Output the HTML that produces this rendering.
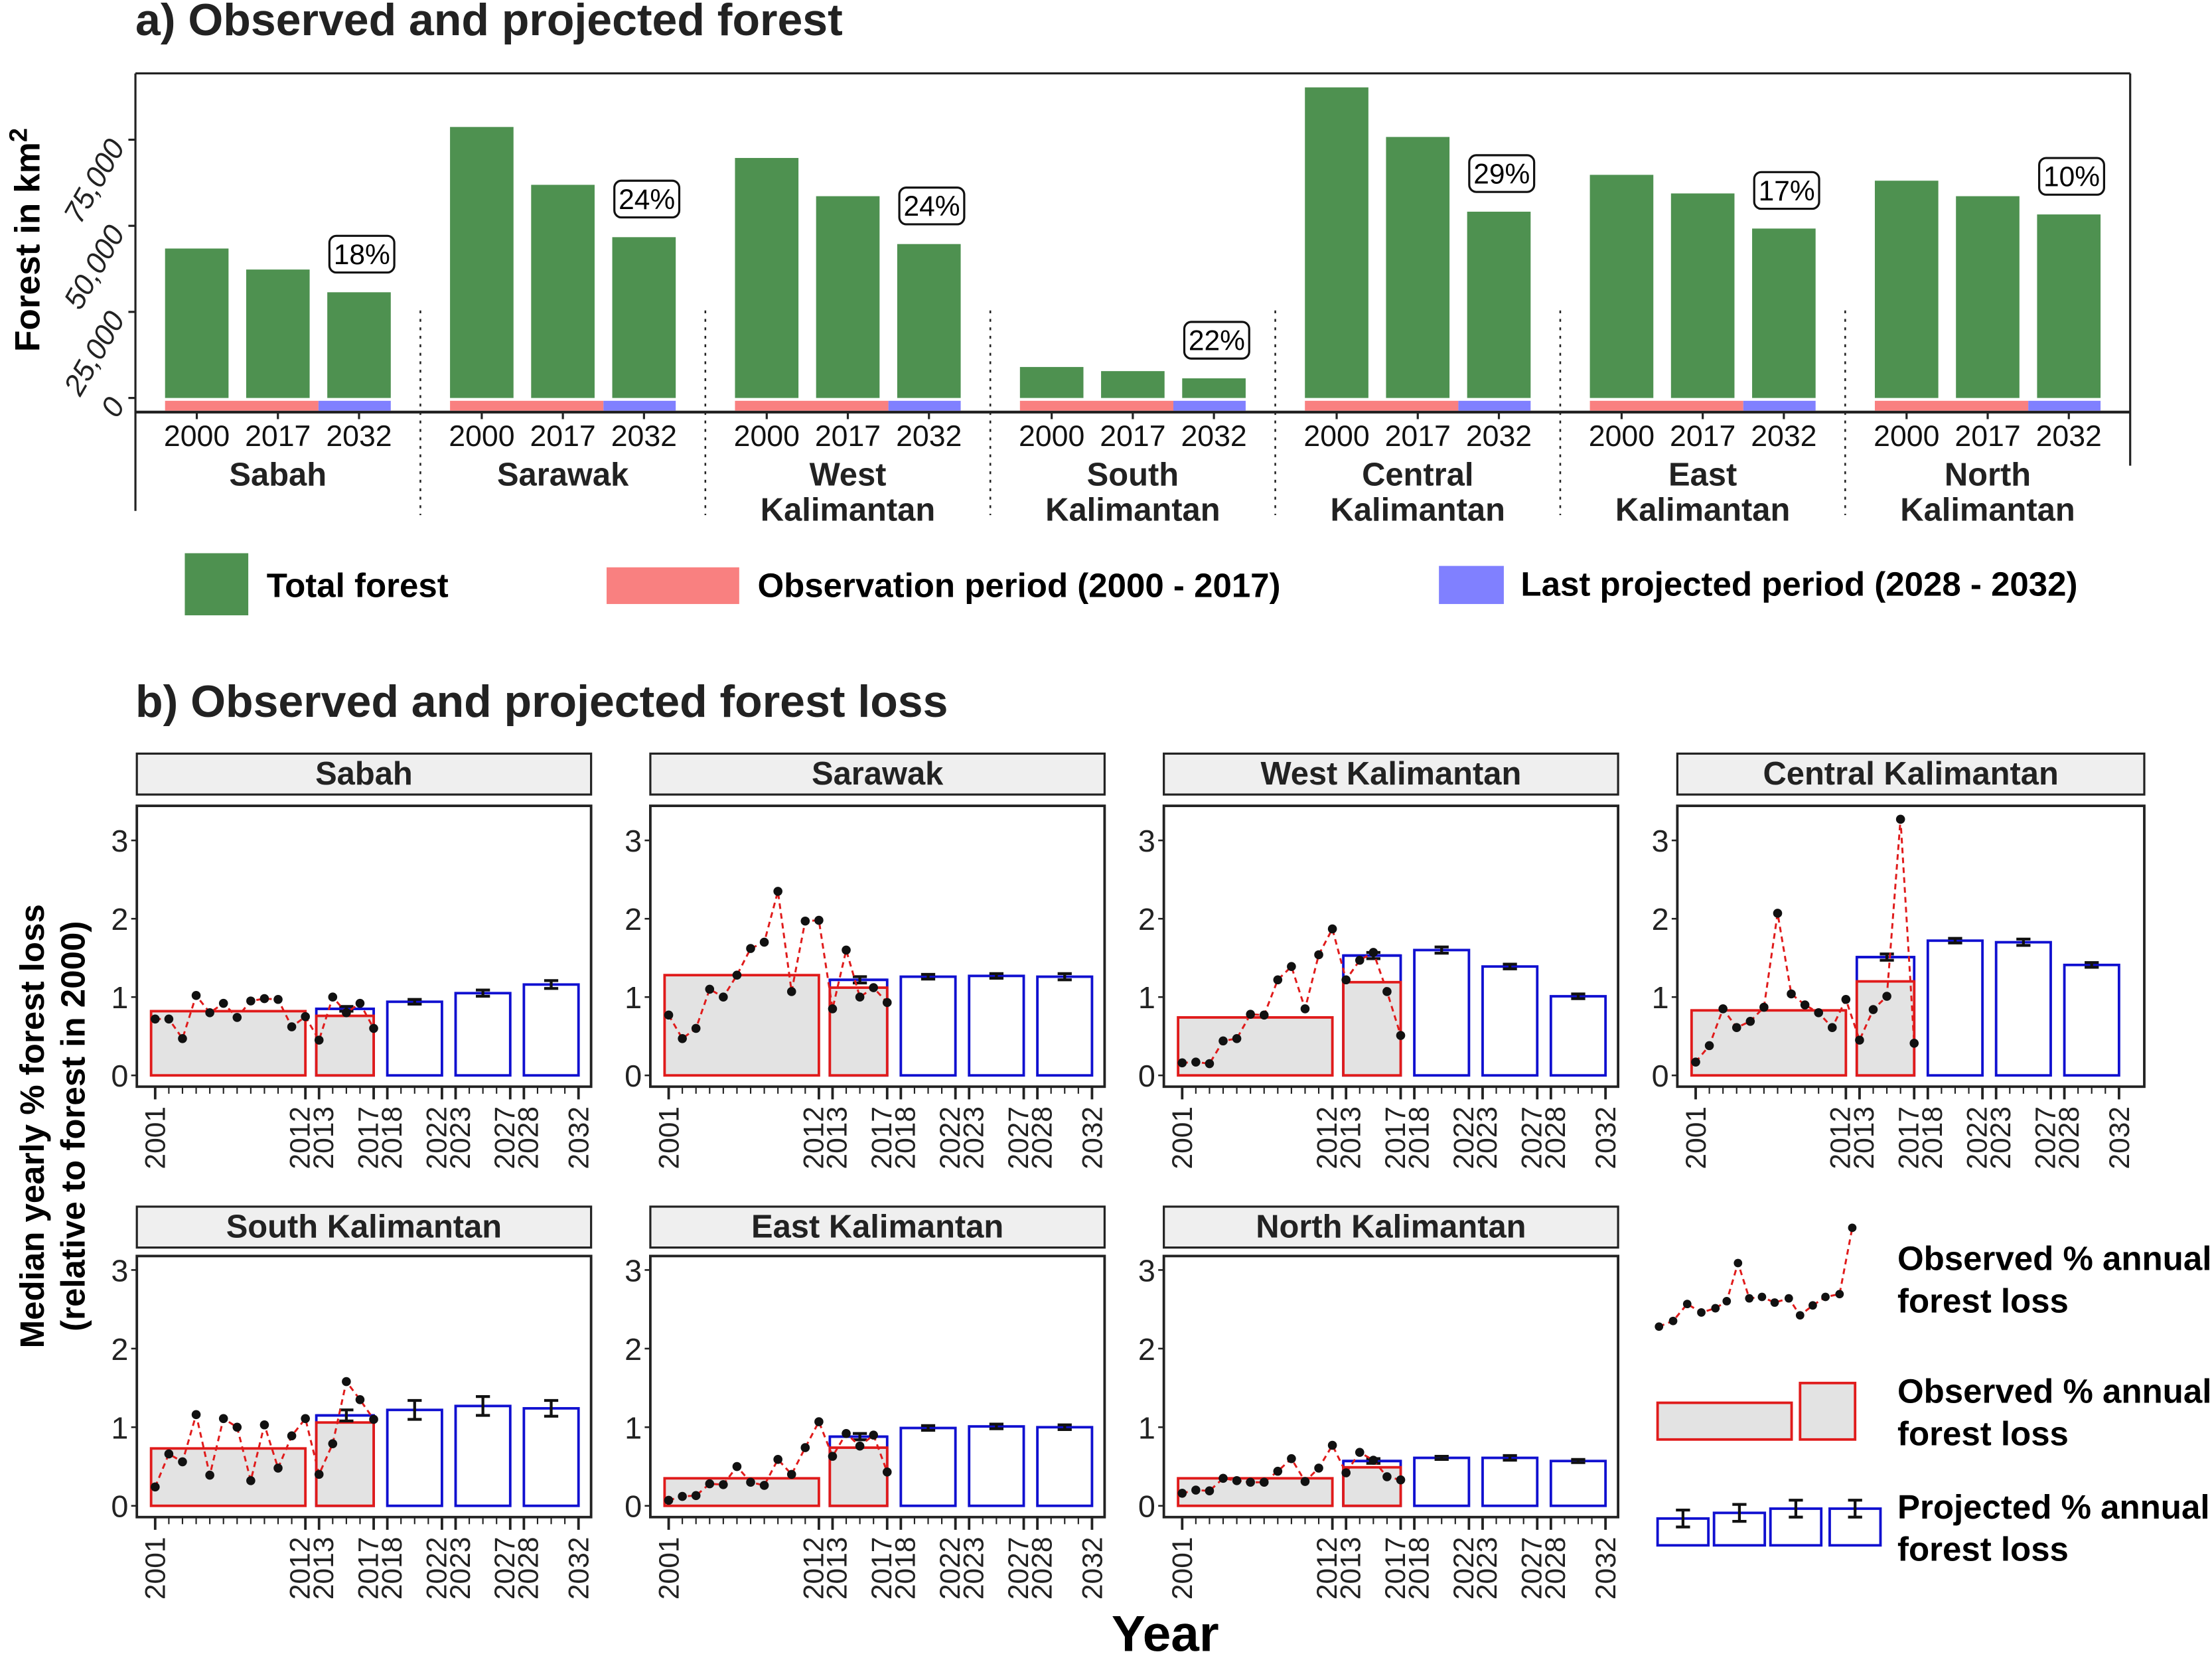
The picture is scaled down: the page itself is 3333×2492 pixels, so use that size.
<!DOCTYPE html>
<html><head><meta charset="utf-8">
<style>
html,body{margin:0;padding:0;background:#fff;}
svg{display:block;font-family:"Liberation Sans",Arial,sans-serif;}
.b{font-weight:bold;}
</style></head>
<body>
<svg id="fig" xmlns="http://www.w3.org/2000/svg" width="3333" height="2492" viewBox="0 0 1568 1172" preserveAspectRatio="none">
<text x="96" y="25" class="b" font-size="32" fill="#222">a) Observed and projected forest</text>
<text x="96" y="508" class="b" font-size="32" fill="#222">b) Observed and projected forest loss</text>
<text transform="translate(28,170) rotate(-90)" text-anchor="middle" class="b" font-size="25">Forest in km<tspan font-size="18" dy="-9">2</tspan></text>
<text transform="translate(31,798) rotate(-90)" text-anchor="middle" class="b" font-size="24">Median yearly % forest loss</text>
<text transform="translate(60,798) rotate(-90)" text-anchor="middle" class="b" font-size="24">(relative to forest in 2000)</text>
<text x="826" y="1170" text-anchor="middle" class="b" font-size="36">Year</text>
</svg>
<script>
// ---------- Panel a data ----------
const regionsA = ["Sabah","Sarawak","West Kalimantan","South Kalimantan","Central Kalimantan","East Kalimantan","North Kalimantan"];
const forest2000 = [43400,78700,69700,9000,90200,64800,63100];
const forest2017 = [37300,61900,58600,7800,75800,59400,58600];
const forest2032 = [30700,46700,44700,5700,54100,49200,53300];
const lossPct = ["18%","24%","24%","22%","29%","17%","10%"];
const yTicksA = [0,25000,50000,75000];
const yTickLabelsA = ["0","25,000","50,000","75,000"];
const barYearsA = ["2000","2017","2032"];

// ---------- Panel b data ----------
const panelNames = ["Sabah","Sarawak","West Kalimantan","Central Kalimantan","South Kalimantan","East Kalimantan","North Kalimantan"];
const obsYears = [2001,2002,2003,2004,2005,2006,2007,2008,2009,2010,2011,2012,2013,2014,2015,2016,2017];
const obsLoss = [
 [0.72,0.72,0.47,1.02,0.80,0.92,0.74,0.95,0.98,0.97,0.62,0.75,0.45,1.00,0.80,0.92,0.60],
 [0.77,0.47,0.60,1.10,1.00,1.28,1.62,1.70,2.35,1.07,1.97,1.98,0.85,1.60,1.00,1.12,0.93],
 [0.16,0.17,0.15,0.44,0.47,0.78,0.77,1.22,1.39,0.85,1.54,1.87,1.22,1.47,1.57,1.07,0.51],
 [0.17,0.38,0.85,0.61,0.69,0.87,2.07,1.04,0.90,0.80,0.61,0.97,0.45,0.84,1.01,3.27,0.41],
 [0.24,0.66,0.56,1.16,0.39,1.11,1.00,0.32,1.03,0.48,0.89,1.11,0.40,0.79,1.58,1.35,1.10],
 [0.07,0.12,0.13,0.28,0.27,0.50,0.30,0.26,0.59,0.40,0.74,1.07,0.63,0.92,0.76,0.90,0.43],
 [0.16,0.20,0.19,0.35,0.32,0.30,0.30,0.44,0.60,0.31,0.48,0.77,0.42,0.68,0.58,0.37,0.33]
];
const obsMean0112 = [0.82,1.28,0.74,0.83,0.73,0.35,0.35];
const obsMean1317 = [0.76,1.12,1.19,1.20,1.06,0.74,0.49];
const projMean1317 = [0.85,1.22,1.53,1.51,1.15,0.88,0.57];
const projMean1822 = [0.94,1.26,1.60,1.72,1.22,0.99,0.61];
const projMean2327 = [1.05,1.27,1.39,1.70,1.27,1.01,0.61];
const projMean2832 = [1.16,1.26,1.01,1.41,1.24,1.00,0.57];
const projErr1317 = [0.03,0.04,0.04,0.04,0.07,0.04,0.03];
const projErr1822 = [0.03,0.03,0.04,0.03,0.12,0.03,0.02];
const projErr2327 = [0.04,0.03,0.03,0.04,0.12,0.03,0.03];
const projErr2832 = [0.05,0.04,0.03,0.03,0.10,0.03,0.02];
const yTicksB = [0,1,2,3];
const xTickLabelsB = [2001,2012,2013,2017,2018,2022,2023,2027,2028,2032];

const NS = "http://www.w3.org/2000/svg";
const svg = document.getElementById("fig");
function mk(tag, attrs, parent){
  const e = document.createElementNS(NS, tag);
  for (const k in attrs) e.setAttribute(k, attrs[k]);
  (parent||svg).appendChild(e);
  return e;
}

// ===== Panel a =====
const aY0 = 282, aUnit = 61/25000;
const ya = v => aY0 - v*aUnit;
const groupCenter = i => 197 + i*202;
let g = mk("g",{});


mk("line",{x1:96,y1:52,x2:1510,y2:52,stroke:"#222","stroke-width":1.5},g);
mk("line",{x1:96,y1:52,x2:96,y2:362,stroke:"#222","stroke-width":1.5},g);
mk("line",{x1:1510,y1:52,x2:1510,y2:330,stroke:"#222","stroke-width":1.5},g);
mk("line",{x1:96,y1:292,x2:1510,y2:292,stroke:"#222","stroke-width":2},g);
yTicksA.forEach((v,i)=>{
  const t = mk("line",{x1:91,y1:ya(v),x2:96,y2:ya(v),stroke:"#222","stroke-width":1.5});
  
  
  const tx = mk("text",{transform:`translate(89,${ya(v)+5}) rotate(-60)`,"text-anchor":"end","font-size":21,"font-style":"italic",fill:"#222"});
  tx.textContent = yTickLabelsA[i];
  
  
});
regionsA.forEach((r,i)=>{
  const gc = groupCenter(i);
  const vals = [forest2000[i],forest2017[i],forest2032[i]];
  const cxs = [gc-57.5, gc, gc+57.5];
  vals.forEach((v,j)=>{
    const b = mk("rect",{x:cxs[j]-22.5,y:ya(v),width:45,height:aY0-ya(v),fill:"#4e9150"});
    
    
    const tk = mk("line",{x1:cxs[j],y1:292,x2:cxs[j],y2:297,stroke:"#222","stroke-width":1.5});
    
    
    const yl = mk("text",{x:cxs[j],y:316,"text-anchor":"middle","font-size":21,fill:"#111"});
    yl.textContent = barYearsA[j];
    
    
  });
  const mid = (cxs[1]+cxs[2])/2;
  const rs = mk("rect",{x:cxs[0]-22.5,y:284,width:mid-(cxs[0]-22.5),height:7,fill:"#f98080"});
  
  
  const bs = mk("rect",{x:mid,y:284,width:cxs[2]+22.5-mid,height:7,fill:"#8080ff"});
  
  
  const ly = ya(forest2032[i])-27;
  const lab = mk("g",{});
  
  
  mk("rect",{x:cxs[2]-21,y:ly-13,width:46,height:26,rx:5,fill:"#fff",stroke:"#111","stroke-width":1.5},lab);
  const lt = mk("text",{x:cxs[2]+2,y:ly+7,"text-anchor":"middle","font-size":20},lab);
  lt.textContent = lossPct[i];
  const words = r.split(" ");
  const nm = mk("text",{x:gc,y:344,"text-anchor":"middle","font-size":23,class:"b",fill:"#222"});
  
  
  if (words.length===1){ nm.textContent = r; }
  else {
    const t1 = mk("tspan",{x:gc,y:344},nm); t1.textContent = words[0];
    const t2 = mk("tspan",{x:gc,y:369},nm); t2.textContent = words[1];
  }
  if (i<regionsA.length-1){
    const sep = mk("line",{x1:gc+101,y1:220,x2:gc+101,y2:365,stroke:"#222","stroke-width":1.2,"stroke-dasharray":"2,4"});
    
    
  }
});
let la = mk("g",{});


mk("rect",{x:131,y:392,width:45,height:44,fill:"#4e9150"},la);
mk("text",{x:189,y:423,"font-size":24,class:"b"},la).textContent="Total forest";
la = mk("g",{});


mk("rect",{x:430,y:402,width:94,height:26,fill:"#f98080"},la);
mk("text",{x:537,y:423,"font-size":24,class:"b"},la).textContent="Observation period (2000 - 2017)";
la = mk("g",{});


mk("rect",{x:1020,y:401,width:46,height:27,fill:"#8080ff"},la);
mk("text",{x:1078,y:422,"font-size":24,class:"b"},la).textContent="Last projected period (2028 - 2032)";

// ===== Panel b =====
const panelBoxes = [[97,419,0],[461,783,0],[825,1147,0],[1189,1520,0],[97,419,1],[461,783,1],[825,1147,1]];
const rows = [{strip:534,top:571,bot:770,y0:762,unit:55.5},{strip:855,top:890,bot:1075,y0:1067,unit:55.7}];
const pairFirst = [2012,2017,2022,2027];
const pairSecond = [2013,2018,2023,2028];
panelNames.forEach((name,i)=>{
  const [x0,x1,ri] = panelBoxes[i];
  const R = rows[ri];
  const xs = yr => x0+13+(yr-2001)*9.68;
  const ys = v => R.y0 - v*R.unit;
  const p = mk("g",{});
  
  
  const st = mk("rect",{x:x0,y:R.strip,width:x1-x0,height:29,fill:"#efefef",stroke:"#222","stroke-width":1.5},p);
  
  
  const stt = mk("text",{x:(x0+x1)/2,y:R.strip+22,"text-anchor":"middle","font-size":23,class:"b",fill:"#222"},p);
  stt.textContent = name;
  
  
  const box = mk("rect",{x:x0,y:R.top,width:x1-x0,height:R.bot-R.top,fill:"#fff",stroke:"#222","stroke-width":1.8},p);
  
  
  yTicksB.forEach(v=>{
    mk("line",{x1:x0-4,y1:ys(v),x2:x0,y2:ys(v),stroke:"#222","stroke-width":1.2},p);
    const t = mk("text",{x:x0-6,y:ys(v)+8,"text-anchor":"end","font-size":22,fill:"#222"},p);
    t.textContent = v;
    
    
  });
  for (let yr=2001; yr<=2032; yr++){
    const major = xTickLabelsB.includes(yr);
    mk("line",{x1:xs(yr),y1:R.bot,x2:xs(yr),y2:R.bot+(major?9:5),stroke:"#222","stroke-width":major?1.8:1},p);
  }
  xTickLabelsB.forEach(yr=>{
    const shift = pairFirst.includes(yr) ? -4 : (pairSecond.includes(yr) ? 3 : 0);
    const t = mk("text",{transform:`translate(${xs(yr)+7+shift},${R.bot+14}) rotate(-90)`,"text-anchor":"end","font-size":20,fill:"#222"},p);
    t.textContent = yr;
    
    
  });
  const pb = mk("rect",{x:xs(2012.8),y:ys(projMean1317[i]),width:xs(2017)-xs(2012.8),height:ys(0)-ys(projMean1317[i]),fill:"none",stroke:"#1010d0","stroke-width":1.8},p);
  
  
  const o1 = mk("rect",{x:xs(2000.7),y:ys(obsMean0112[i]),width:xs(2012)-xs(2000.7),height:ys(0)-ys(obsMean0112[i]),fill:"#e3e3e3",stroke:"#e01b1b","stroke-width":1.8},p);
  
  
  const o2 = mk("rect",{x:xs(2012.8),y:ys(obsMean1317[i]),width:xs(2017)-xs(2012.8),height:ys(0)-ys(obsMean1317[i]),fill:"#e3e3e3",stroke:"#e01b1b","stroke-width":1.8},p);
  
  
  mk("line",{x1:xs(2012.8),y1:ys(projMean1317[i]),x2:xs(2017),y2:ys(projMean1317[i]),stroke:"#1010d0","stroke-width":1.8},p);
  const projSets = [[2018,2022,projMean1822[i]],[2023,2027,projMean2327[i]],[2028,2032,projMean2832[i]]];
  projSets.forEach(([s,e,m])=>{
    const r = mk("rect",{x:xs(s),y:ys(m),width:xs(e)-xs(s),height:ys(0)-ys(m),fill:"#fff",stroke:"#1010d0","stroke-width":1.8},p);
    
    
  });
  const errSets = [[2015,projMean1317[i],projErr1317[i]],[2020,projMean1822[i],projErr1822[i]],[2025,projMean2327[i],projErr2327[i]],[2030,projMean2832[i],projErr2832[i]]];
  errSets.forEach(([c,m,er])=>{
    const eg = mk("g",{stroke:"#111","stroke-width":2},p);
    
    
    const cx = xs(c);
    mk("line",{x1:cx,y1:ys(m-er),x2:cx,y2:ys(m+er)},eg);
    mk("line",{x1:cx-5,y1:ys(m-er),x2:cx+5,y2:ys(m-er)},eg);
    mk("line",{x1:cx-5,y1:ys(m+er),x2:cx+5,y2:ys(m+er)},eg);
  });
  const pts = obsYears.map((yr,k)=>xs(yr)+","+ys(obsLoss[i][k])).join(" ");
  const ln = mk("polyline",{points:pts,fill:"none",stroke:"#e01b1b","stroke-width":1.4,"stroke-dasharray":"4,3"},p);
  
  
  obsYears.forEach((yr,k)=>{
    const c = mk("circle",{cx:xs(yr),cy:ys(obsLoss[i][k]),r:3.2,fill:"#111"},p);
    
    
  });
});

let lb = mk("g",{});


const legPts = [[1176,940],[1186,936],[1196,924],[1206,930],[1216,927],[1224,922],[1232,895],[1240,920],[1249,919],[1258,923],[1268,920],[1276,932],[1285,925],[1294,919],[1304,917],[1313,870]];
mk("polyline",{points:legPts.map(q=>q.join(",")).join(" "),fill:"none",stroke:"#e01b1b","stroke-width":1.4,"stroke-dasharray":"4,3"},lb);
legPts.forEach(q=>mk("circle",{cx:q[0],cy:q[1],r:3,fill:"#111"},lb));
mk("text",{x:1345,y:900,"font-size":24,class:"b"},lb).textContent="Observed % annual";
mk("text",{x:1345,y:930,"font-size":24,class:"b"},lb).textContent="forest loss";
lb = mk("g",{});


mk("rect",{x:1175,y:994,width:95,height:26,fill:"#e3e3e3",stroke:"#e01b1b","stroke-width":1.8},lb);
mk("rect",{x:1276,y:980,width:39,height:40,fill:"#e3e3e3",stroke:"#e01b1b","stroke-width":1.8},lb);
mk("text",{x:1345,y:994,"font-size":24,class:"b"},lb).textContent="Observed % annual";
mk("text",{x:1345,y:1024,"font-size":24,class:"b"},lb).textContent="forest loss";
lb = mk("g",{});


[[1175,1076],[1215,1072],[1255,1069],[1297,1069]].forEach(([x,t])=>{
  mk("rect",{x:x,y:t,width:36,height:1095-t,fill:"#fff",stroke:"#1010d0","stroke-width":1.8},lb);
  mk("line",{x1:x+18,y1:t-6,x2:x+18,y2:t+6,stroke:"#111","stroke-width":2},lb);
  mk("line",{x1:x+13,y1:t-6,x2:x+23,y2:t-6,stroke:"#111","stroke-width":2},lb);
  mk("line",{x1:x+13,y1:t+6,x2:x+23,y2:t+6,stroke:"#111","stroke-width":2},lb);
});
mk("text",{x:1345,y:1076,"font-size":24,class:"b"},lb).textContent="Projected % annual";
mk("text",{x:1345,y:1106,"font-size":24,class:"b"},lb).textContent="forest loss";
</script>
</body></html>
